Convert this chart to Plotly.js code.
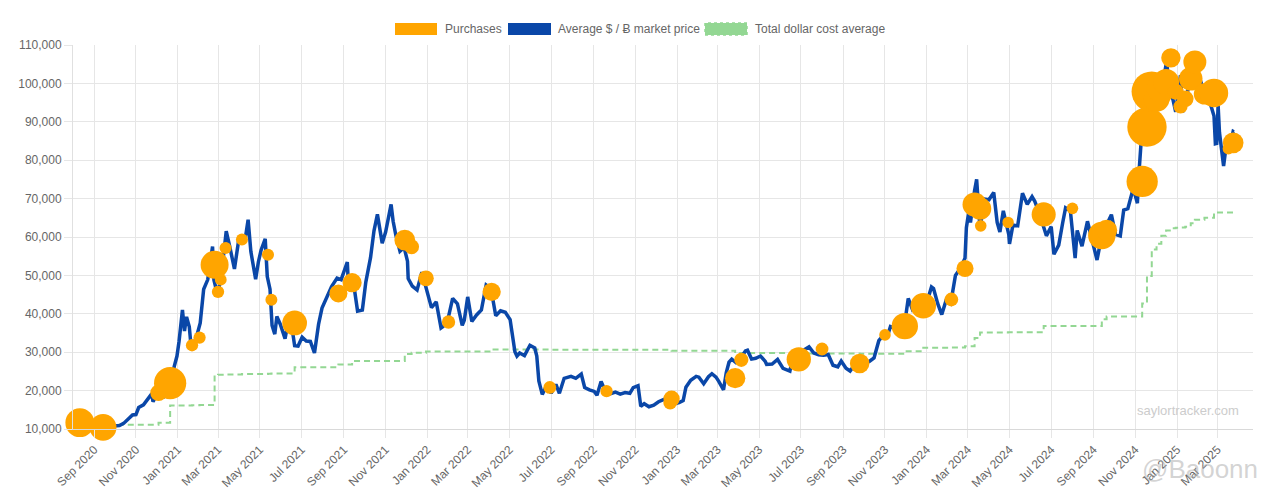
<!DOCTYPE html>
<html>
<head>
<meta charset="utf-8">
<script src="https://cdn.plot.ly/plotly-3.0.1.min.js"></script>
<style>
html,body{margin:0;padding:0;background:#fff;}
#chart{width:1270px;height:493px;}
</style>
</head>
<body>
<div id="chart"></div>
<script>
// ---- Average $ / BTC market price ----
const priceDates = [
"2020-08-11","2020-08-17","2020-08-25","2020-09-01","2020-09-05","2020-09-10","2020-09-17","2020-09-23","2020-09-30","2020-10-08",
"2020-10-14","2020-10-21","2020-10-27","2020-11-01","2020-11-05","2020-11-12","2020-11-18","2020-11-24","2020-11-26","2020-12-01",
"2020-12-06","2020-12-11","2020-12-16","2020-12-21","2020-12-24","2020-12-27","2020-12-31","2021-01-03","2021-01-08","2021-01-11",
"2021-01-14","2021-01-18","2021-01-21","2021-01-25","2021-01-29","2021-02-03","2021-02-08","2021-02-14","2021-02-17","2021-02-21",
"2021-02-23","2021-02-28","2021-03-05","2021-03-09","2021-03-13","2021-03-18","2021-03-25","2021-03-31","2021-04-05","2021-04-10",
"2021-04-14","2021-04-18","2021-04-25","2021-04-29","2021-05-03","2021-05-09","2021-05-12","2021-05-16","2021-05-19","2021-05-23",
"2021-05-26","2021-05-31","2021-06-07","2021-06-14","2021-06-21","2021-06-26","2021-07-02","2021-07-08","2021-07-14","2021-07-20",
"2021-07-26","2021-07-31","2021-08-07","2021-08-14","2021-08-22","2021-08-28","2021-09-06","2021-09-08","2021-09-15","2021-09-21",
"2021-09-28","2021-10-03","2021-10-10","2021-10-15","2021-10-20","2021-10-27","2021-11-01","2021-11-09","2021-11-12","2021-11-16",
"2021-11-22","2021-11-28","2021-12-03","2021-12-04","2021-12-10","2021-12-17","2021-12-24","2021-12-31","2022-01-07","2022-01-14",
"2022-01-21","2022-01-24","2022-01-31","2022-02-07","2022-02-14","2022-02-21","2022-02-24","2022-03-01","2022-03-07","2022-03-14",
"2022-03-21","2022-03-28","2022-04-04","2022-04-11","2022-04-18","2022-04-25","2022-05-02","2022-05-09","2022-05-12","2022-05-16",
"2022-05-23","2022-05-31","2022-06-07","2022-06-10","2022-06-13","2022-06-18","2022-06-25","2022-07-01","2022-07-08","2022-07-13",
"2022-07-20","2022-07-30","2022-08-06","2022-08-14","2022-08-19","2022-08-26","2022-09-02","2022-09-06","2022-09-12","2022-09-19",
"2022-09-26","2022-10-03","2022-10-10","2022-10-17","2022-10-24","2022-10-29","2022-11-05","2022-11-09","2022-11-14","2022-11-21",
"2022-11-28","2022-12-05","2022-12-14","2022-12-20","2022-12-28","2023-01-04","2023-01-10","2023-01-14","2023-01-21","2023-01-29",
"2023-02-02","2023-02-09","2023-02-16","2023-02-21","2023-02-27","2023-03-03","2023-03-10","2023-03-14","2023-03-18","2023-03-22",
"2023-03-28","2023-04-03","2023-04-11","2023-04-14","2023-04-20","2023-04-26","2023-05-03","2023-05-10","2023-05-12","2023-05-20",
"2023-05-28","2023-06-05","2023-06-15","2023-06-21","2023-06-28","2023-07-05","2023-07-13","2023-07-20","2023-07-27","2023-08-03",
"2023-08-10","2023-08-17","2023-08-24","2023-08-29","2023-09-05","2023-09-11","2023-09-18","2023-09-25","2023-10-02","2023-10-09",
"2023-10-16","2023-10-23","2023-10-30","2023-11-06","2023-11-09","2023-11-16","2023-11-23","2023-11-30","2023-12-05","2023-12-11",
"2023-12-18","2023-12-25","2023-12-31","2024-01-08","2024-01-11","2024-01-17","2024-01-23","2024-01-29","2024-02-05","2024-02-12",
"2024-02-19","2024-02-26","2024-02-28","2024-03-04","2024-03-05","2024-03-11","2024-03-14","2024-03-19","2024-03-25","2024-04-01",
"2024-04-08","2024-04-13","2024-04-17","2024-04-22","2024-04-30","2024-05-01","2024-05-06","2024-05-13","2024-05-20","2024-05-27",
"2024-06-03","2024-06-07","2024-06-14","2024-06-24","2024-07-01","2024-07-05","2024-07-12","2024-07-18","2024-07-22","2024-07-29",
"2024-08-05","2024-08-08","2024-08-15","2024-08-23","2024-08-30","2024-09-06","2024-09-13","2024-09-20","2024-09-27","2024-10-03",
"2024-10-10","2024-10-15","2024-10-21","2024-10-29","2024-11-04","2024-11-06","2024-11-11","2024-11-13","2024-11-18","2024-11-22",
"2024-11-26","2024-12-02","2024-12-05","2024-12-09","2024-12-17","2024-12-20","2024-12-26","2024-12-30","2025-01-06","2025-01-09",
"2025-01-13","2025-01-20","2025-01-22","2025-01-27","2025-02-02","2025-02-03","2025-02-10","2025-02-17","2025-02-24","2025-02-26",
"2025-02-28","2025-03-02","2025-03-04","2025-03-10","2025-03-14","2025-03-18","2025-03-24","2025-03-25"
];
const prices = [
11400,12250,11350,11950,10200,10350,10950,10250,10800,10900,
11450,12800,13650,13750,15600,16300,17800,19150,17100,18800,
19350,18050,21300,22800,23700,26300,29000,32800,41000,35500,
39200,36600,30800,32300,34300,37600,46400,48900,52100,57500,
48800,45200,48800,54900,61500,57600,51700,58900,58700,59800,
64500,56200,49000,53500,56600,59500,49700,46400,37000,34700,
39300,37300,33500,40200,31700,31600,33900,32900,32800,29800,
37300,41500,44600,47100,49300,48900,53500,46100,48100,40700,
41000,48200,54700,61600,65900,58400,61300,68500,64100,60400,
56300,57300,53700,49200,47200,46200,50800,46300,41600,43100,
36300,36700,38500,44000,42600,37000,38300,44400,38000,39700,
41000,47500,46600,39500,40800,40400,38500,30100,29000,29800,
29100,31800,31100,29000,22500,19000,21500,19300,21600,19300,
23200,23700,23200,24300,20800,20200,19800,18800,22400,19500,
19200,19600,19100,19500,19300,20800,21300,15900,16600,15800,
16200,17100,17800,16900,16550,16900,17400,20900,22700,23700,
23500,21800,23600,24400,23500,22400,20200,24700,27400,28200,
27300,28200,30300,30500,28200,28400,29000,27600,26800,26900,
28100,25800,25100,30000,30100,30500,31400,29800,29300,29200,
29400,26600,26200,27700,25800,25100,26800,26300,27500,27600,
28500,33000,34500,35000,36700,36200,37300,37700,44000,41200,
42600,43000,42300,47000,46600,42700,39800,43300,42600,50000,
51800,54500,62400,68300,63800,72100,75000,62000,69900,69700,
71600,63800,61300,66800,60600,58200,63100,62900,71400,68500,
70500,69300,66000,60300,62700,55500,57900,63900,67600,66800,
54500,61700,57600,64100,59100,54000,60500,63100,65800,60700,
60300,67000,67400,72700,68800,75900,88700,90500,90500,98900,
91900,95900,98800,97400,106100,97800,95800,92600,102100,92500,
94500,101500,104000,102000,97700,101400,97400,95700,91500,84300,
84400,94300,87200,78500,84000,82700,87500,87400
];

// ---- Purchases (date, BTC bought, average price paid) ----
const purchaseDates = [
"2020-08-11","2020-09-14","2020-12-04","2020-12-21","2021-01-22","2021-02-02","2021-02-24","2021-03-01","2021-03-05","2021-03-12",
"2021-04-05","2021-05-13","2021-05-18","2021-06-21","2021-08-24","2021-09-13","2021-11-29","2021-12-09","2021-12-30","2022-02-01",
"2022-04-05","2022-06-29","2022-09-20","2022-12-22","2022-12-24","2023-03-27","2023-04-05","2023-06-28","2023-08-01","2023-09-25",
"2023-11-01","2023-11-30","2023-12-27","2024-02-06","2024-02-26","2024-03-11","2024-03-19","2024-03-20","2024-04-29","2024-06-20",
"2024-08-01","2024-09-13","2024-09-20","2024-11-11","2024-11-18","2024-11-25","2024-12-02","2024-12-09","2024-12-16","2024-12-23",
"2024-12-30","2025-01-06","2025-01-13","2025-01-21","2025-01-27","2025-02-10","2025-02-24","2025-03-17","2025-03-24"
];
const purchaseBtc = [
21454,16796,2574,29646,314,295,19452,328,205,262,
253,271,229,13005,3907,5050,7002,1434,1914,660,
4167,480,301,810,2395,6455,1045,12333,467,5445,
155,16130,14620,850,3000,12000,9245,150,122,11931,
169,18300,7420,27200,51780,55500,15400,21550,15350,5262,
2138,1070,2530,11000,10107,7633,20356,130,6911
];
const purchasePrice = [
11652,10419,19427,21925,31808,33808,52765,45710,48888,57146,
59339,55387,43663,37617,45294,48099,59187,57477,49229,37865,
45714,20817,19851,16845,17871,23238,28016,28136,30835,27053,
34500,36785,42110,43723,51813,68477,67382,62900,63800,65883,
67455,60408,61750,74463,88627,97862,95976,98783,100386,106662,
97837,94004,95972,101191,105596,97255,97514,82981,84529
];

// ---- Total dollar cost average (after each purchase) ----
const dcaDates = [
"2020-08-11","2020-09-14","2020-12-04","2020-12-21","2021-01-22","2021-02-02","2021-02-24","2021-03-01","2021-03-05","2021-03-12",
"2021-04-05","2021-05-13","2021-05-18","2021-06-21","2021-08-24","2021-09-13","2021-11-29","2021-12-09","2021-12-30","2022-02-01",
"2022-04-05","2022-06-29","2022-09-20","2022-12-24","2023-03-27","2023-04-05","2023-06-28","2023-08-01","2023-09-25","2023-11-01",
"2023-11-30","2023-12-27","2024-02-06","2024-02-26","2024-03-11","2024-03-19","2024-04-29","2024-06-20","2024-08-01","2024-09-13",
"2024-09-20","2024-11-11","2024-11-18","2024-11-25","2024-12-02","2024-12-09","2024-12-16","2024-12-23","2024-12-30","2025-01-06",
"2025-01-13","2025-01-21","2025-01-27","2025-02-10","2025-02-24","2025-03-17","2025-03-24","2025-03-25"
];
const dcaValues = [
11652,11111,11650,16109,16180,16250,23985,24100,24150,24214,
24311,24403,24450,26080,26769,27713,29534,29861,30159,30200,
30700,30664,30639,30397,29817,29803,29668,29672,29582,29586,
30252,31168,31224,31544,33706,35160,35180,36798,36821,38585,
39266,42692,49874,56761,58263,60324,61725,62257,62428,62503,
62691,63610,64511,65033,66357,66360,66608,66608
];

// ---- Axis ticks ----
const yTickValues = [10000,20000,30000,40000,50000,60000,70000,80000,90000,100000,110000];
const xTickStart = "2020-09-01";

const ORANGE = "#FFA500", BLUE = "#0a47a8", GREEN = "#93d793";
const FONT = "Liberation Sans, Arial, Helvetica, sans-serif";

const bubbleSizes = purchaseBtc.map(b => 2 * (5 + Math.sqrt(b) / 15.5));

const traces = [
  {
    type: "scatter", mode: "lines", name: "Total dollar cost average",
    x: dcaDates, y: dcaValues,
    line: {color: GREEN, width: 2, dash: "6px,4px", shape: "hv"},
    hoverinfo: "skip", showlegend: false
  },
  {
    type: "scatter", mode: "lines", name: "Average $ / Ƀ market price",
    x: priceDates, y: prices,
    line: {color: BLUE, width: 3.5},
    hoverinfo: "skip", showlegend: false
  },
  {
    type: "scatter", mode: "markers", name: "Purchases",
    x: purchaseDates, y: purchasePrice,
    marker: {color: ORANGE, size: bubbleSizes, sizemode: "diameter", opacity: 1, line: {width: 0}},
    cliponaxis: false, hoverinfo: "skip", showlegend: false
  }
];

// custom Chart.js-like legend (boxes + labels) in paper coords
const L = 73, R = 1253, T = 45, B = 429;
const px = v => (v - L) / (R - L);
const py = v => (B - v) / (B - T);
const legendItems = [
  {x0: 395, x1: 437, tx: 443, color: ORANGE, text: "Purchases", dash: false},
  {x0: 508, x1: 551, tx: 556, color: BLUE, text: "Average $ / Ƀ market price", dash: false},
  {x0: 705, x1: 747, tx: 753, color: GREEN, text: "Total dollar cost average", dash: true}
];
const shapes = legendItems.map(it => ({
  type: "rect", xref: "paper", yref: "paper",
  x0: px(it.x0), x1: px(it.x1), y0: py(35), y1: py(23),
  fillcolor: it.color, line: {color: it.color, width: it.dash ? 1.5 : 0, dash: it.dash ? "dot" : "solid"}
}));
const annotations = legendItems.map(it => ({
  xref: "paper", yref: "paper", x: px(it.tx), y: py(29),
  xanchor: "left", yanchor: "middle", showarrow: false,
  text: it.text, font: {family: FONT, size: 12, color: "#666"}
}));
annotations.push({
  xref: "paper", yref: "paper", x: px(1188), y: py(410),
  xanchor: "center", yanchor: "middle", showarrow: false,
  text: "saylortracker.com", font: {family: FONT, size: 13, color: "#cccccc"}
});
annotations.push({
  xref: "paper", yref: "paper", x: px(1140), y: py(469),
  xanchor: "left", yanchor: "middle", showarrow: false,
  text: "@Baoonn", font: {family: FONT, size: 26, color: "rgba(175,175,175,0.55)"}
});

const layout = {
  width: 1270, height: 493,
  margin: {l: L, r: 1270 - R, t: T, b: 493 - B, pad: 0},
  paper_bgcolor: "#fff", plot_bgcolor: "#fff",
  font: {family: FONT, size: 12, color: "#666"},
  showlegend: false,
  xaxis: {
    type: "date", range: ["2020-08-01", "2025-04-22"],
    tick0: xTickStart, dtick: "M2", tickformat: "%b %Y", tickangle: -45,
    showgrid: true, gridcolor: "#e6e6e6", gridwidth: 1,
    ticks: "outside", ticklen: 8, tickcolor: "#e6e6e6",
    showline: true, linecolor: "#d9d9d9", linewidth: 1,
    zeroline: false, tickfont: {family: FONT, size: 12, color: "#666"}
  },
  yaxis: {
    range: [10000, 110000], tickmode: "array", tickvals: yTickValues,
    tickformat: ",.0f",
    showgrid: true, gridcolor: "#e6e6e6", gridwidth: 1,
    ticks: "outside", ticklen: 8, tickcolor: "#e6e6e6",
    showline: true, linecolor: "#e0e0e0", linewidth: 1,
    zeroline: false, tickfont: {family: FONT, size: 12, color: "#666"}
  },
  shapes: shapes,
  annotations: annotations
};

Plotly.newPlot("chart", traces, layout, {staticPlot: true, displayModeBar: false});
</script>
</body>
</html>
